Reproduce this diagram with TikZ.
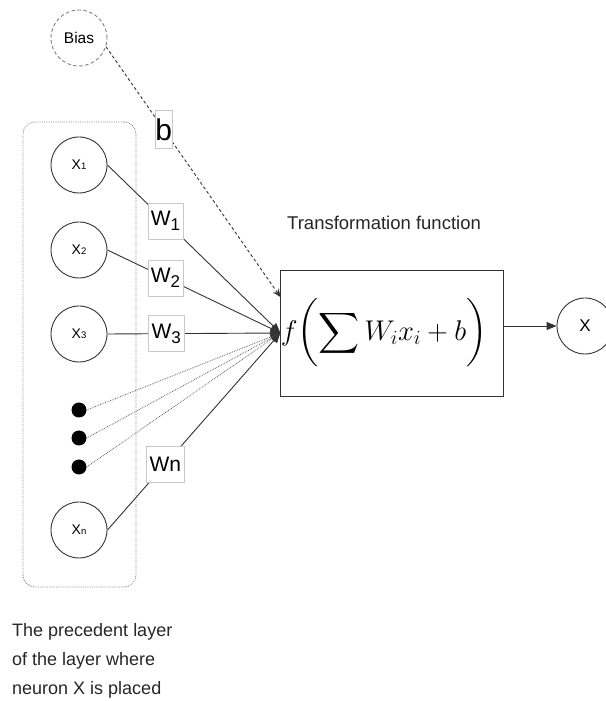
\RequirePackage{fix-cm}
\documentclass[tikz,border=0pt]{standalone}
\usepackage{amsmath, amssymb}
\usepackage{fontspec}
\setmainfont{Liberation Sans}
\usepackage{xcolor}
\usepackage{tikz}
\usetikzlibrary{calc, arrows.meta, shapes, positioning}
\definecolor{linegray}{HTML}{333333}
\definecolor{boxgray}{HTML}{C8C8C8}
\newcommand{\xin}[1]{{\fontsize{14}{14}\selectfont X}{\fontsize{9.5}{9.5}\selectfont #1}}
\newcommand{\wlab}[1]{{\fontsize{21}{21}\selectfont W}\raisebox{-5pt}{\fontsize{17}{17}\selectfont #1}}
\tikzset{
    circlenode/.style = {circle, draw=linegray, line width=0.9pt, inner sep = 0em, minimum size=56pt, node distance=0em},
    biasnode/.style = {circlenode, draw=gray, dash pattern=on 3.5pt off 2.5pt},
    dotnode/.style = {fill=black, circle, minimum size=15pt, inner sep = 0em, node distance=0em},
    layernode/.style = {draw=gray, densely dotted, line width=0.8pt, rectangle, rounded corners=12pt, minimum width=113pt, minimum height=465pt},
    funcnode/.style = {draw=linegray, line width=0.9pt, rectangle, inner sep=0em, minimum width=218pt, minimum height=126pt, node distance=0em},
    labelnode/.style = {draw=boxgray, solid, line width=0.5pt, fill=white, rectangle, inner xsep=3pt, inner ysep=0pt, minimum height=36pt, text=black},
    textnode/.style = {draw=none, fill=none, rectangle, inner sep = 0em, text=black!85},
    connect/.style = {linegray, line width=0.9pt, -{Triangle[length=10pt, width=8pt]}},
    dotconnect/.style = {gray!80!black, densely dotted, line width=0.8pt, -{Triangle[length=10pt, width=8pt]}},
    biasconnect/.style = {linegray, line width=0.9pt, dash pattern=on 3pt off 2.5pt, -{Stealth[length=8pt, width=7pt]}}
}
\begin{document}
\begin{tikzpicture}[x=1pt, y=1pt]
    \useasboundingbox (0,0) rectangle (605,701);

    \node [name=layer, layernode] at (79.5,346.5) {};

    \node [name=bias, biasnode, font=\fontsize{15.5}{15.5}\selectfont] at (79,663) {Bias};

    \node [name=x1, circlenode] at (79,536) {\xin{1}};
    \node [name=x2, circlenode, below of = x1, yshift=-85pt] {\xin{2}};
    \node [name=x3, circlenode, below of = x2, yshift=-84pt] {\xin{3}};
    \node [name=d1, dotnode, below of = x3, yshift=-76pt] {};
    \node [name=d2, dotnode, below of = d1, yshift=-28pt] {};
    \node [name=d3, dotnode, below of = d2, yshift=-29pt] {};
    \node [name=xn, circlenode, below of = d3, yshift=-63pt] {\xin{n}};

    \node [name=func, funcnode, font=\fontsize{28.5}{32}\selectfont] at (392,368)
        {$\displaystyle f\biggl(\sum W_i x_i + b\biggr)$\hspace*{16pt}};
    \node [name=out, circlenode, right of = func, xshift=193pt, yshift=7pt, font=\fontsize{17}{17}\selectfont] {X};

    \node [name=title, textnode, anchor=base west, font=\fontsize{18.5}{18.5}\selectfont] at (287,471) {Transformation function};
    \node [name=note, textnode, anchor=north west, align=left, font=\fontsize{18}{29}\selectfont] at (12,78)
        {The precedent layer\\of the layer where\\neuron X is placed};

    \coordinate (bin) at ([yshift=36pt]func.west);

    \draw (d1.east) edge[dotconnect] (func.west);
    \draw (d2.east) edge[dotconnect] (func.west);
    \draw (d3.east) edge[dotconnect] (func.west);

    \draw (x1.east) edge[connect] node[labelnode, pos=0.335] {\wlab{1}} (func.west);
    \draw (x2.east) edge[connect] node[labelnode, pos=0.335] {\wlab{2}} (func.west);
    \draw (x3.east) edge[connect] node[labelnode, pos=0.34] {\wlab{3}} (func.west);
    \draw (xn.east) edge[connect] node[labelnode, pos=0.335, font=\fontsize{21}{21}\selectfont] {Wn} (func.west);

    \draw (bias.-18) edge[biasconnect] node[labelnode, pos=0.33, inner xsep=0.5pt, minimum height=38pt, font=\fontsize{30}{30}\selectfont] {b} (bin);

    \draw (out.west -| func.east) edge[connect] (out.west);
\end{tikzpicture}
\end{document}
